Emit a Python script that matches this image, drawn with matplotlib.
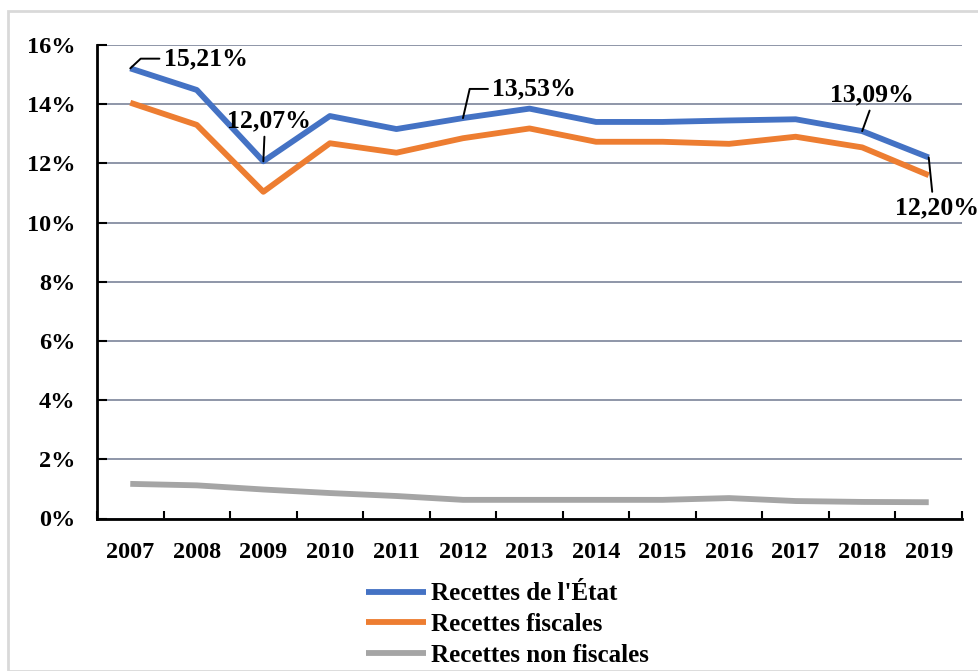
import numpy as np
import matplotlib.pyplot as plt
from matplotlib.patches import Rectangle
from matplotlib.ticker import FuncFormatter

years = ["2007", "2008", "2009", "2010", "2011", "2012", "2013",
         "2014", "2015", "2016", "2017", "2018", "2019"]
recettes_etat = [15.21, 14.48, 12.07, 13.60, 13.16, 13.53, 13.85,
                 13.40, 13.40, 13.45, 13.49, 13.09, 12.20]
recettes_fiscales = [14.05, 13.30, 11.04, 12.68, 12.36, 12.85, 13.18,
                     12.73, 12.73, 12.66, 12.90, 12.54, 11.60]
recettes_non_fiscales = [1.17, 1.12, 0.98, 0.86, 0.76, 0.63, 0.63,
                         0.63, 0.63, 0.69, 0.59, 0.56, 0.55]

series = [
    ("Recettes de l'État", recettes_etat, "#4472C4"),
    ("Recettes fiscales", recettes_fiscales, "#ED7D31"),
    ("Recettes non fiscales", recettes_non_fiscales, "#A5A5A5"),
]

# labelled points: (index, text, offset in points, ha, va, relpos, connection)
labels = [
    (0, "15,21%", (24, 7), "left", "center", (0, 0.5), "angle,angleA=0,angleB=43,rad=0"),
    (2, "12,07%", (4, 29), "center", "center", (0.45, 0.1), "arc3"),
    (5, "13,53%", (21, 21), "left", "center", (0, 0.5), "angle,angleA=0,angleB=77,rad=0"),
    (11, "13,09%", (7, 26), "center", "center", (0.5, 0.1), "arc3"),
    (12, "12,20%", (6, -36), "center", "center", (0.45, 0.9), "arc3"),
]

plt.rcParams["font.family"] = ["Liberation Serif", "DejaVu Serif"]
plt.rcParams["font.weight"] = "bold"

fig = plt.figure(figsize=(9.79, 6.71), dpi=100)
ax = fig.add_axes([97 / 979, 1 - 518.5 / 671, 865 / 979, 473.5 / 671])

# light frame around the chart
fig.patches.append(Rectangle((8 / 979, 0), 1.2, 1 - 11 / 671, transform=fig.transFigure,
                             fill=False, edgecolor="#d9d9d9", linewidth=2))

x = np.arange(len(years))
for name, vals, col in series:
    ax.plot(x, vals, color=col, linewidth=4.2, label=name, solid_capstyle="butt", zorder=3)

for i, txt, off, ha, va, rp, cs in labels:
    ax.annotate(txt, xy=(x[i], recettes_etat[i]), xytext=off, textcoords="offset points",
                ha=ha, va=va, fontsize=18.5, fontweight="bold",
                arrowprops=dict(arrowstyle="-", color="black", lw=1.4, relpos=rp,
                                connectionstyle=cs, shrinkA=1, shrinkB=0),
                zorder=4)

ax.set_xlim(-0.5, len(years) - 0.5)
ax.set_ylim(0, 16)
ax.set_yticks(np.arange(0, 17, 2))
ax.yaxis.set_major_formatter(FuncFormatter(lambda v, p: f"{v:.0f}%"))
ax.set_xticks(np.arange(-0.5, len(years)))
ax.set_xticklabels([])
ax.set_xticks(x, minor=True)
ax.set_xticklabels(years, minor=True)
ax.tick_params(axis="x", which="major", direction="in", length=6, width=1.5)
ax.tick_params(axis="x", which="minor", length=0, pad=17, labelsize=17.5)
ax.tick_params(axis="y", direction="in", length=7, width=1.5, pad=15.5, labelsize=17.5)

ax.grid(axis="y", color="#8e96a8", linewidth=1.4, zorder=0)
ax.set_axisbelow(True)
for s in ["top", "right"]:
    ax.spines[s].set_visible(False)
for s in ["left", "bottom"]:
    ax.spines[s].set_linewidth(2)

fig.legend(loc="upper left", bbox_to_anchor=(349 / 979, 1 - 565 / 671), frameon=False,
           fontsize=18, handlelength=2.4, handletextpad=0.2, labelspacing=0.3,
           borderpad=0.2)

fig.savefig("out.png", dpi=100)
